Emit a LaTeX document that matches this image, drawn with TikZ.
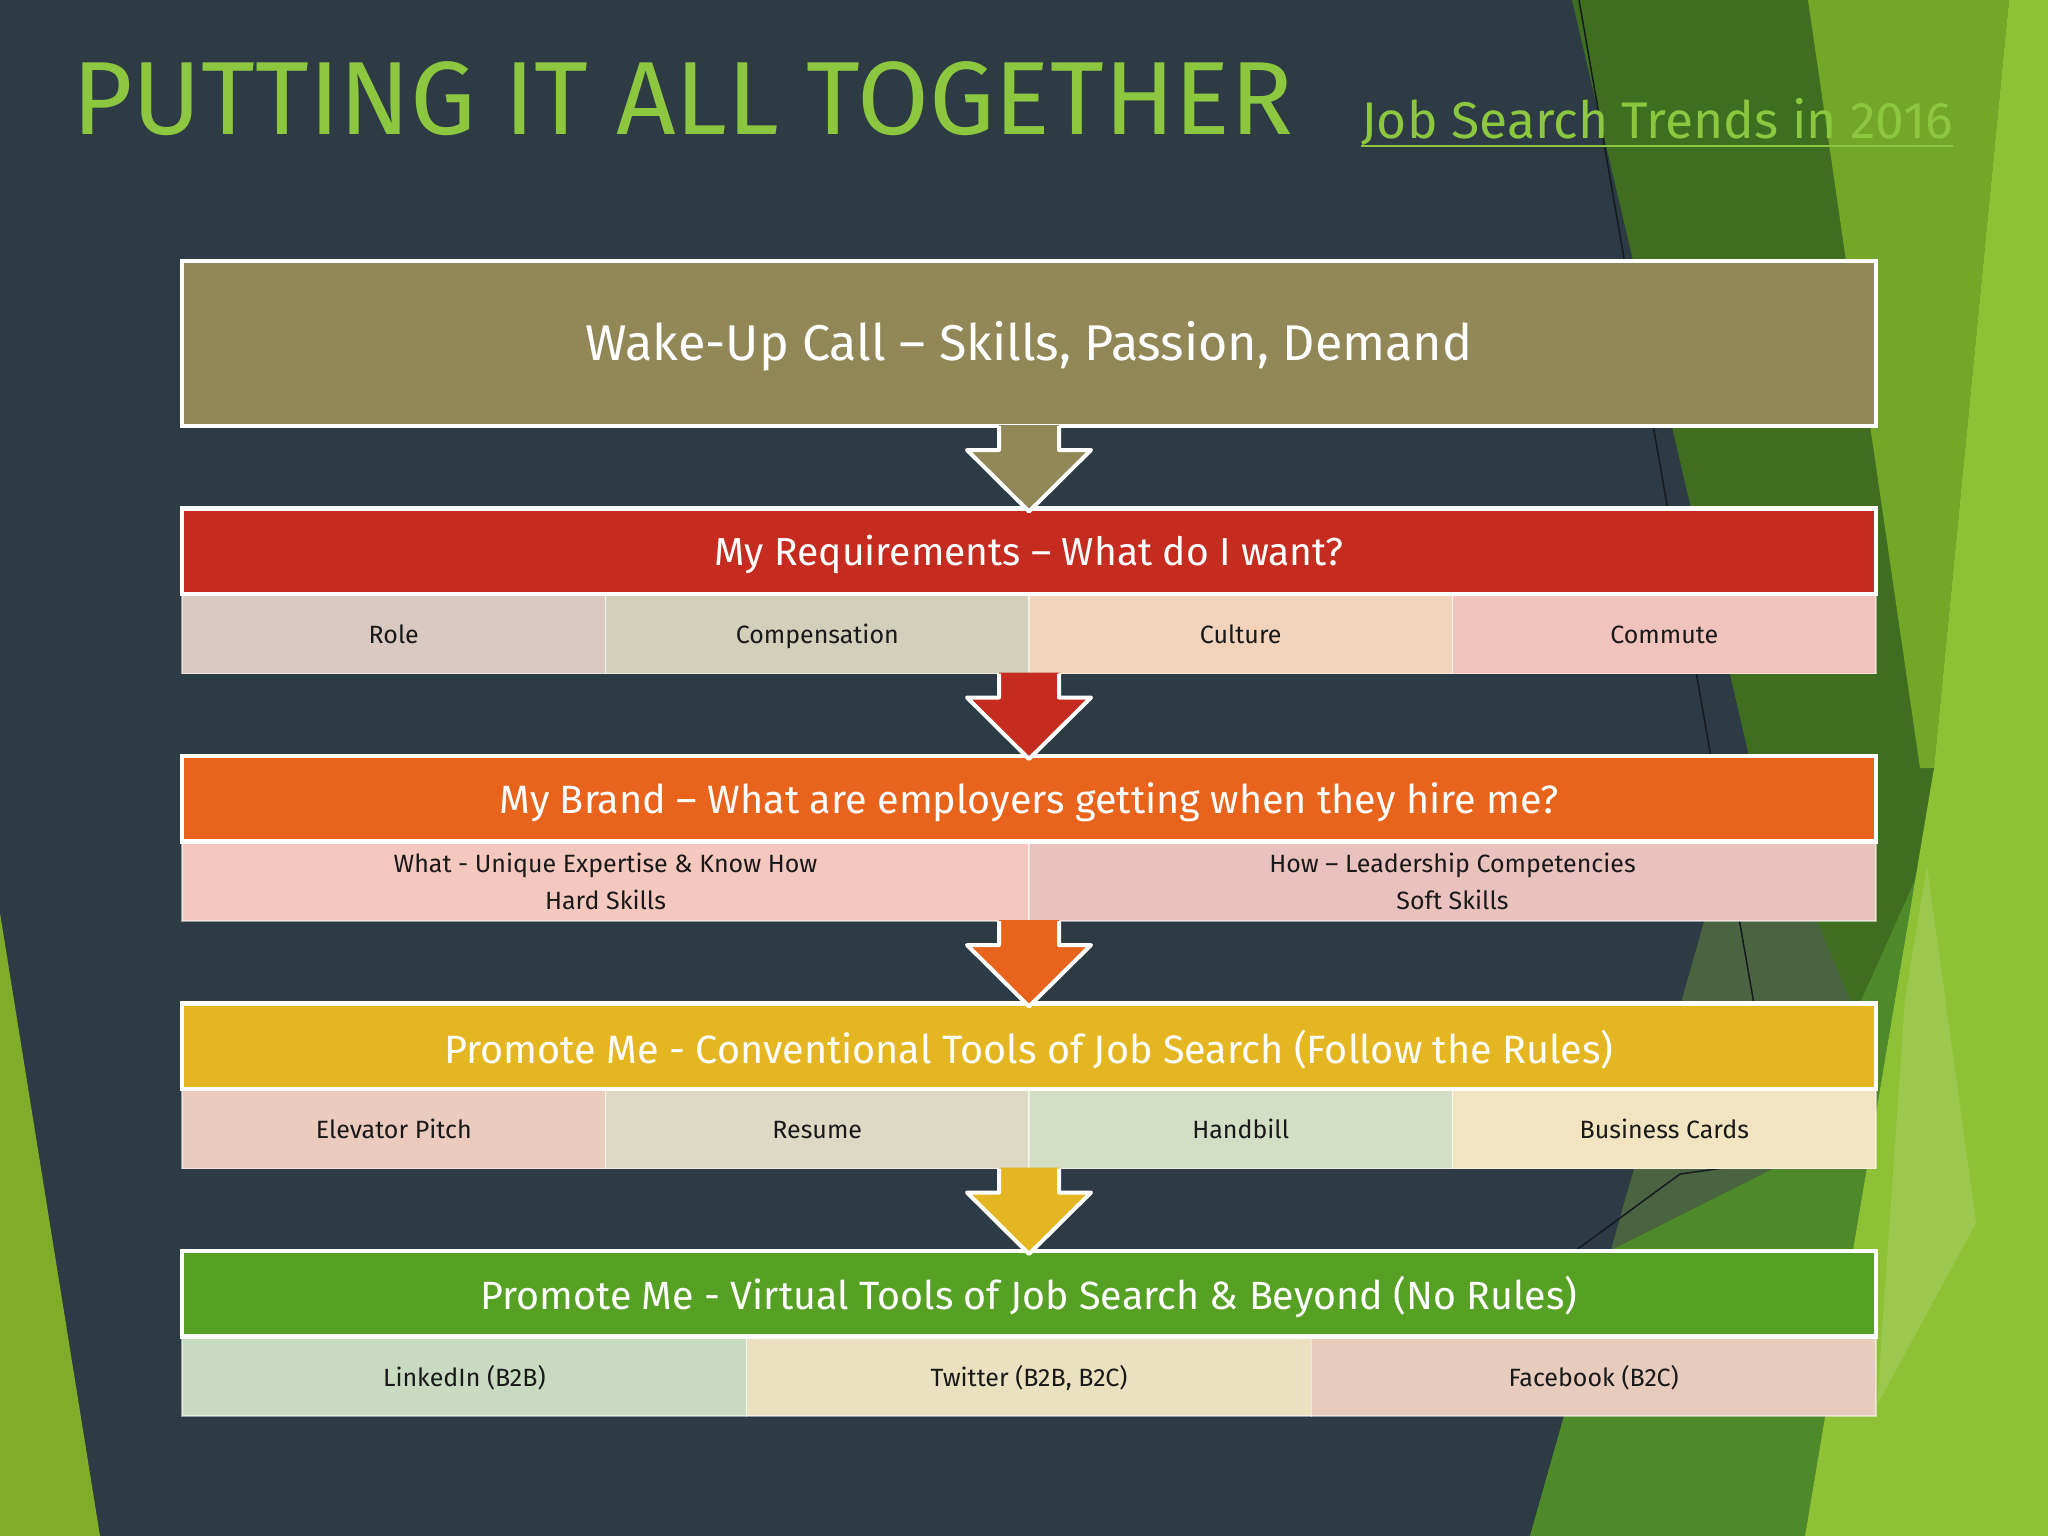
\documentclass[tikz,border=0pt]{standalone}
\usepackage{fontspec}
\setmainfont{Fira Sans}
\usetikzlibrary{calc}
\definecolor{slate}{HTML}{2C3B44}
\definecolor{khaki}{HTML}{918757}
\definecolor{cred}{HTML}{C52B1E}
\definecolor{corange}{HTML}{E8641C}
\definecolor{cyellow}{HTML}{E4B621}
\definecolor{cgreen}{HTML}{56A024}
\definecolor{crole}{HTML}{D9C9C0}
\definecolor{ccomp}{HTML}{D2CFBA}
\definecolor{ccult}{HTML}{F2D4BC}
\definecolor{ccomm}{HTML}{F0C3BC}
\definecolor{cwhat}{HTML}{F4C8BE}
\definecolor{chow}{HTML}{EAC2BD}
\definecolor{celev}{HTML}{EACBBE}
\definecolor{cresu}{HTML}{DDD9C5}
\definecolor{chand}{HTML}{D3DEC5}
\definecolor{cbusi}{HTML}{F2E4C0}
\definecolor{clink}{HTML}{C8DBC1}
\definecolor{ctwit}{HTML}{E9E1BF}
\definecolor{cface}{HTML}{E7CBBC}
\definecolor{titlegreen}{HTML}{8DC63F}
\definecolor{gdark}{HTML}{3F6E20}
\definecolor{gmid}{HTML}{4E8A2A}
\definecolor{ggrey}{HTML}{4A6341}
\definecolor{gmidlight}{HTML}{74A628}
\definecolor{gbright}{HTML}{8FC137}
\definecolor{gleft}{HTML}{7FAD2A}
\newcommand\subfont{\fontsize{25pt}{37pt}\selectfont}
\newcommand\lstrut{\rule[-8pt]{0pt}{36pt}}
\newcommand\hdrtext[3]{\raisebox{-#2pt}[\height][\depth]{\resizebox{#1pt}{!}{#3}}}
\newcommand\flowarrow[3]{%
  \fill[#3] ($(#1)+(-30,-1)$) -- ($(#1)+(-30,24)$) -- ($(#1)+(-62,24)$) -- (#2)
    -- ($(#1)+(62,24)$) -- ($(#1)+(30,24)$) -- ($(#1)+(30,-1)$) -- cycle;
  \draw[white, line width=4pt, line join=round]
    ($(#1)+(-30,0)$) -- ($(#1)+(-30,24)$) -- ($(#1)+(-62,24)$) -- (#2)
    -- ($(#1)+(62,24)$) -- ($(#1)+(30,24)$) -- ($(#1)+(30,0)$);
}
\tikzset{
  hdrbox/.style={anchor=north west, inner sep=0pt, outer sep=0pt,
    minimum width=1694pt, minimum height=85.5pt, text=white},
  subcell/.style={anchor=north west, inner sep=0pt, outer sep=0pt,
    minimum height=79.5pt, draw=white, draw opacity=0.5, line width=1.5pt,
    font=\subfont, text=black!90, align=center},
  whiteframe/.style={draw=white, line width=4.5pt},
}
\begin{document}
\begin{tikzpicture}[x=1pt,y=-1pt]
\useasboundingbox (0,0) rectangle (2048,1536);
% background
\fill[slate] (0,0) rectangle (2048,1536);
\fill[gdark] (1572,0) -- (2048,0) -- (2048,1536) -- (1530,1536) -- (1750,760) -- cycle;
\fill[gmid] (1530,1536) -- (1611,1250) -- (1790,1160) -- (1915,880) -- (1805,1536) -- cycle;
\fill[ggrey] (1750,760) -- (1850,1000) -- (1790,1160) -- (1611,1250) -- cycle;
\fill[gmidlight] (1808,0) -- (2009,0) -- (1934,768) -- (1920,768) -- cycle;
\fill[gbright] (2009,0) -- (2048,0) -- (2048,1536) -- (1805,1536) -- (1934,768) -- cycle;
\fill[white, opacity=0.12] (1927,866) -- (1976,1223) -- (1877,1405) -- (1905,1000) -- cycle;
\fill[gleft] (0,913) -- (100,1536) -- (0,1536) -- cycle;
\draw[line width=1.5pt, black!55!slate] (1579,0) -- (1755,1010);
\draw[line width=1.5pt, black!55!slate] (1560,1262) -- (1680,1174) -- (1795,1158);

% titles
\node[anchor=base west, inner sep=0pt, text=titlegreen] (title) at (72,135)
  {\resizebox{1221pt}{!}{PUTTING IT ALL TOGETHER}};
\node[anchor=base west, inner sep=0pt, text=titlegreen] (subtitle) at (1361,139)
  {\resizebox{592pt}{!}{Job Search Trends in 2016}};
\draw[titlegreen, line width=2.5pt] ([yshift=-7pt]subtitle.base west) -- ([yshift=-7pt]subtitle.base east);

% box 1
\node[anchor=north west, inner sep=0pt, outer sep=0pt, minimum width=1694pt,
  minimum height=165pt, fill=khaki, text=white] (b1) at (182,261)
  {\hdrtext{887}{3}{Wake-Up Call – Skills, Passion, Demand}};
\draw[whiteframe] (b1.north west) rectangle (b1.south east);

% box 2
\node[hdrbox, fill=cred] (h2) at (182,508.5)
  {\hdrtext{629}{3.5}{My Requirements – What do I want?}};
\node[subcell, fill=crole, minimum width=423.5pt] (c21) at (182,594) {\lstrut Role};
\node[subcell, fill=ccomp, minimum width=423.5pt] (c22) at (605.5,594) {\lstrut Compensation};
\node[subcell, fill=ccult, minimum width=423.5pt] (c23) at (1029,594) {\lstrut Culture};
\node[subcell, fill=ccomm, minimum width=423.5pt] (c24) at (1452.5,594) {\lstrut Commute};
\draw[whiteframe] (h2.north west) rectangle (h2.south east);

% box 3
\node[hdrbox, fill=corange] (h3) at (182,756)
  {\hdrtext{1059}{3.5}{My Brand – What are employers getting when they hire me?}};
\node[subcell, fill=cwhat, minimum width=847pt] (c31) at (182,841.5)
  {\lstrut What - Unique Expertise \& Know How\\\lstrut Hard Skills};
\node[subcell, fill=chow, minimum width=847pt] (c32) at (1029,841.5)
  {\lstrut How – Leadership Competencies\\\lstrut Soft Skills};
\draw[whiteframe] (h3.north west) rectangle (h3.south east);

% box 4
\node[hdrbox, fill=cyellow] (h4) at (182,1003.5)
  {\hdrtext{1169}{3}{Promote Me - Conventional Tools of Job Search (Follow the Rules)}};
\node[subcell, fill=celev, minimum width=423.5pt] (c41) at (182,1089) {\lstrut Elevator Pitch};
\node[subcell, fill=cresu, minimum width=423.5pt] (c42) at (605.5,1089) {\lstrut Resume};
\node[subcell, fill=chand, minimum width=423.5pt] (c43) at (1029,1089) {\lstrut Handbill};
\node[subcell, fill=cbusi, minimum width=423.5pt] (c44) at (1452.5,1089) {\lstrut Business Cards};
\draw[whiteframe] (h4.north west) rectangle (h4.south east);

% box 5
\node[hdrbox, fill=cgreen] (h5) at (182,1251)
  {\hdrtext{1097}{3.5}{Promote Me - Virtual Tools of Job Search \& Beyond (No Rules)}};
\node[subcell, fill=clink, minimum width=564.67pt] (c51) at (182,1336.5) {\lstrut LinkedIn (B2B)};
\node[subcell, fill=ctwit, minimum width=564.67pt] (c52) at (746.67,1336.5) {\lstrut Twitter (B2B, B2C)};
\node[subcell, fill=cface, minimum width=564.67pt] (c53) at (1311.33,1336.5) {\lstrut Facebook (B2C)};
\draw[whiteframe] (h5.north west) rectangle (h5.south east);

% arrows
\coordinate (s1) at (b1.south);
\coordinate (s2) at (h2.south |- c21.south);
\coordinate (s3) at (h3.south |- c31.south);
\coordinate (s4) at (h4.south |- c41.south);
\coordinate (t2) at ($(h2.north)+(0,3)$);
\coordinate (t3) at ($(h3.north)+(0,3)$);
\coordinate (t4) at ($(h4.north)+(0,3)$);
\coordinate (t5) at ($(h5.north)+(0,3)$);
\flowarrow{s1}{t2}{khaki}
\flowarrow{s2}{t3}{cred}
\flowarrow{s3}{t4}{corange}
\flowarrow{s4}{t5}{cyellow}
\end{tikzpicture}
\end{document}
